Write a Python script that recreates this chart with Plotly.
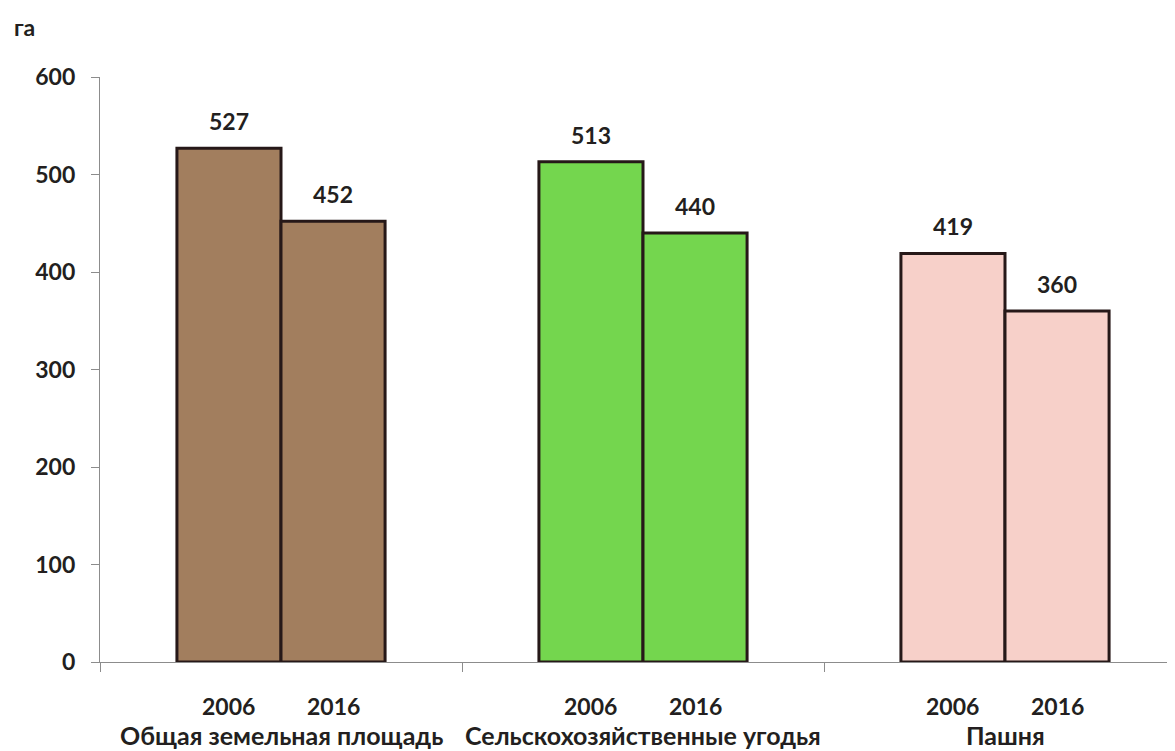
import plotly.graph_objects as go

categories = ["Общая земельная площадь", "Сельскохозяйственные угодья", "Пашня"]
years = ["2006", "2016"]
values_2006 = [527, 513, 419]
values_2016 = [452, 440, 360]
colors = ["#A27E5E", "#74D64E", "#F7D0C9"]
y_ticks = [0, 100, 200, 300, 400, 500, 600]
unit_label = "га"

FONT = "Lato"
TXT = "#231f20"
W, H = 1167, 743
L, T, B = 92, 69, 89
PW, PH = W - L, H - T - B
x_idx = list(range(len(categories)))
bargap = 0.425
half = (1 - bargap) / 4

fig = go.Figure()
for yr, vals in zip(years, [values_2006, values_2016]):
    fig.add_trace(go.Bar(
        x=x_idx, y=vals, name=yr,
        marker=dict(color=colors, line=dict(color="#261818", width=3)),
        hoverinfo="skip",
    ))

annotations = []
for k, (yr, vals) in enumerate(zip(years, [values_2006, values_2016])):
    off = -half if k == 0 else half
    for i, v in zip(x_idx, vals):
        annotations.append(dict(x=i + off, y=v, xref="x", yref="y", text=f"<b>{v}</b>",
                                showarrow=False, yshift=27, yanchor="middle",
                                font=dict(family=FONT, size=23, color=TXT)))
        annotations.append(dict(x=i + off, y=0, xref="x", yref="paper", text=f"<b>{yr}</b>",
                                showarrow=False, yshift=-44, yanchor="middle",
                                font=dict(family=FONT, size=23, color=TXT)))
for i, c in zip(x_idx, categories):
    annotations.append(dict(x=i, y=0, xref="x", yref="paper", text=f"<b>{c}</b>",
                            showarrow=False, yshift=-73, yanchor="middle",
                            font=dict(family=FONT, size=25, color=TXT)))
annotations.append(dict(x=(4 - L) / PW, y=1 + (T - 19) / PH, xref="paper", yref="paper",
                        text=f"<b>{unit_label}</b>", showarrow=False,
                        xanchor="left", yanchor="middle",
                        font=dict(family=FONT, size=23, color=TXT)))

fig.update_layout(
    width=W, height=H,
    margin=dict(l=L, r=0, t=T, b=B, autoexpand=False),
    paper_bgcolor="white", plot_bgcolor="white",
    barmode="group", bargap=bargap, bargroupgap=0,
    showlegend=False,
    annotations=annotations,
    xaxis=dict(range=[-0.5, -0.5 + PW / 362], tickvals=[-0.5, 0.5, 1.5],
               ticks="outside", ticklen=9, tickcolor="#8c8c8c", tickwidth=1.2,
               showticklabels=False, showline=True, linecolor="#8c8c8c", linewidth=1.2,
               showgrid=False, zeroline=False, fixedrange=True),
    yaxis=dict(range=[0, 600], tickvals=y_ticks, ticktext=[f"<b>{t}</b>" for t in y_ticks],
               ticks="outside", ticklen=8, tickcolor="#8c8c8c", tickwidth=1.2,
               showline=True, linecolor="#8c8c8c", linewidth=1.2,
               showgrid=False, zeroline=False, ticklabelstandoff=11,
               tickfont=dict(family=FONT, size=23, color=TXT), fixedrange=True),
)

fig.write_html("out.html")
